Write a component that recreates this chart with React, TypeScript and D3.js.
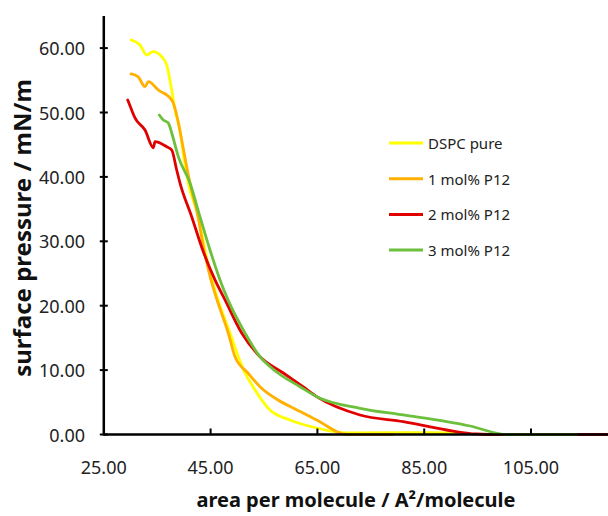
import React from "react";
import * as d3 from "d3";

const seriesNames = ["DSPC pure", "1 mol% P12", "2 mol% P12", "3 mol% P12"];
const seriesColors = ["#FFFF00", "#FFB000", "#E00000", "#6CC03C"];

const dspcPure: [number, number][] = [
  [30.1, 61.26], [31.78, 60.48], [33.03, 58.93], [34.21, 59.44], [35.84, 58.66],
  [36.78, 57.38], [37.72, 53.49], [38.33, 50.39], [39.27, 47.28], [39.9, 43.5],
  [40.82, 39.05], [42.7, 33.82], [43.95, 28.65], [45.26, 24.0], [46.39, 20.9],
  [48.63, 15.76], [50.19, 12.08], [51.44, 9.55], [52.94, 7.42], [56.12, 3.8],
  [59.87, 2.25], [64.87, 1.01], [70.49, 0.25], [80.47, 0.28], [91.33, 0.26],
];

const mol1: [number, number][] = [
  [30.1, 55.98], [31.4, 55.56], [32.72, 54.01], [33.33, 54.78], [35.21, 53.49],
  [37.72, 51.94], [38.33, 50.65], [39.59, 45.73], [40.39, 42.16], [41.14, 39.05],
  [42.64, 33.82], [43.76, 28.65], [45.07, 24.0], [46.2, 20.9], [48.31, 15.76],
  [49.57, 12.08], [52.0, 9.55], [54.25, 7.42], [57.62, 5.36], [61.0, 3.9],
  [64.87, 2.25], [70.49, 0.0], [79.2, 0.0],
];

const mol2: [number, number][] = [
  [29.48, 51.94], [30.22, 50.39], [30.84, 49.15], [32.72, 47.28], [34.27, 44.53],
  [34.59, 45.47], [36.78, 44.69], [37.72, 44.18], [38.65, 41.07], [39.27, 39.05],
  [41.46, 33.82], [43.52, 28.65], [45.82, 24.0], [47.7, 20.9], [50.82, 15.76],
  [54.25, 12.08], [58.61, 9.55], [62.3, 7.42], [64.87, 5.87], [72.98, 3.03],
  [81.09, 1.99], [89.21, 0.7], [94.83, 0.08], [99.2, 0.0], [125.0, 0.0],
];

const mol3: [number, number][] = [
  [35.39, 49.61], [36.14, 48.84], [37.08, 48.37], [37.72, 46.82], [38.95, 43.14],
  [41.14, 39.05], [43.01, 33.82], [44.89, 28.65], [46.76, 24.0], [48.26, 20.9],
  [51.44, 15.76], [54.25, 12.08], [57.62, 9.55], [61.74, 7.42], [64.87, 5.87],
  [72.98, 4.07], [81.09, 3.03], [89.21, 1.99], [93.58, 1.32], [100.45, 0.0],
  [113.56, 0.0],
];

const allSeries = [dspcPure, mol1, mol2, mol3];
const xTicks = [25, 45, 65, 85, 105];
const yTicks = [0, 10, 20, 30, 40, 50, 60];

const W = 608;
const H = 516;

export default function App() {
  const x = d3.scaleLinear().domain([25, 125]).range([103.8, 103.8 + 100 * 5.34]);
  const y = d3.scaleLinear().domain([0, 65]).range([434.5, 434.5 - 65 * 6.44]);
  const line = d3
    .line<[number, number]>()
    .x((d) => x(d[0]))
    .y((d) => y(d[1]))
    .curve(d3.curveMonotoneX);

  const x0 = x(25);
  const y0 = y(0);

  return (
    <svg
      width={W}
      height={H}
      style={{ position: "absolute", left: 0, top: 0, background: "#fff" }}
      fontFamily="'Noto Sans', sans-serif"
    >
      <defs>
        <clipPath id="plot">
          <rect x={x0} y={0} width={W - x0} height={y0 + 3} />
        </clipPath>
      </defs>
      <g clipPath="url(#plot)">
        {allSeries.map((s, i) => (
          <path
            key={i}
            d={line(s) || ""}
            fill="none"
            stroke={seriesColors[i]}
            strokeWidth={2.8}
            strokeLinejoin="round"
            strokeLinecap="round"
          />
        ))}
      </g>
      <line x1={x0} x2={x0} y1={y(65)} y2={y0 + 1} stroke="#000" strokeWidth={2.5} />
      <line x1={x0} x2={W} y1={y0} y2={y0} stroke="#000" strokeWidth={2.5} />
      {yTicks.map((t) => (
        <g key={"y" + t}>
          <line x1={x0 - 4} x2={x0 + 4} y1={y(t)} y2={y(t)} stroke="#000" strokeWidth={2} />
          <text
            x={85}
            y={y(t)}
            textAnchor="end"
            dominantBaseline="central"
            fontSize={18}
            fill="#222"
          >
            {t.toFixed(2)}
          </text>
        </g>
      ))}
      {xTicks.map((t) => (
        <g key={"x" + t}>
          {t !== 25 && (
            <line x1={x(t)} x2={x(t)} y1={y0} y2={y0 - 6} stroke="#000" strokeWidth={2} />
          )}
          <text x={x(t)} y={474} textAnchor="middle" fontSize={18} fill="#222">
            {t.toFixed(2)}
          </text>
        </g>
      ))}
      <text x={356} y={507} textAnchor="middle" fontSize={20} fontWeight="bold" fill="#111">
        area per molecule / A²/molecule
      </text>
      <text
        transform={`translate(31,${228}) rotate(-90)`}
        textAnchor="middle"
        fontSize={24}
        fontWeight="bold"
        fill="#111"
      >
        surface pressure / mN/m
      </text>
      {seriesNames.map((n, i) => {
        const ly = 143 + i * 35.7;
        return (
          <g key={n}>
            <line x1={389} x2={423} y1={ly} y2={ly} stroke={seriesColors[i]} strokeWidth={3} />
            <text x={428} y={ly} dominantBaseline="central" fontSize={15} fill="#222">
              {n}
            </text>
          </g>
        );
      })}
    </svg>
  );
}
